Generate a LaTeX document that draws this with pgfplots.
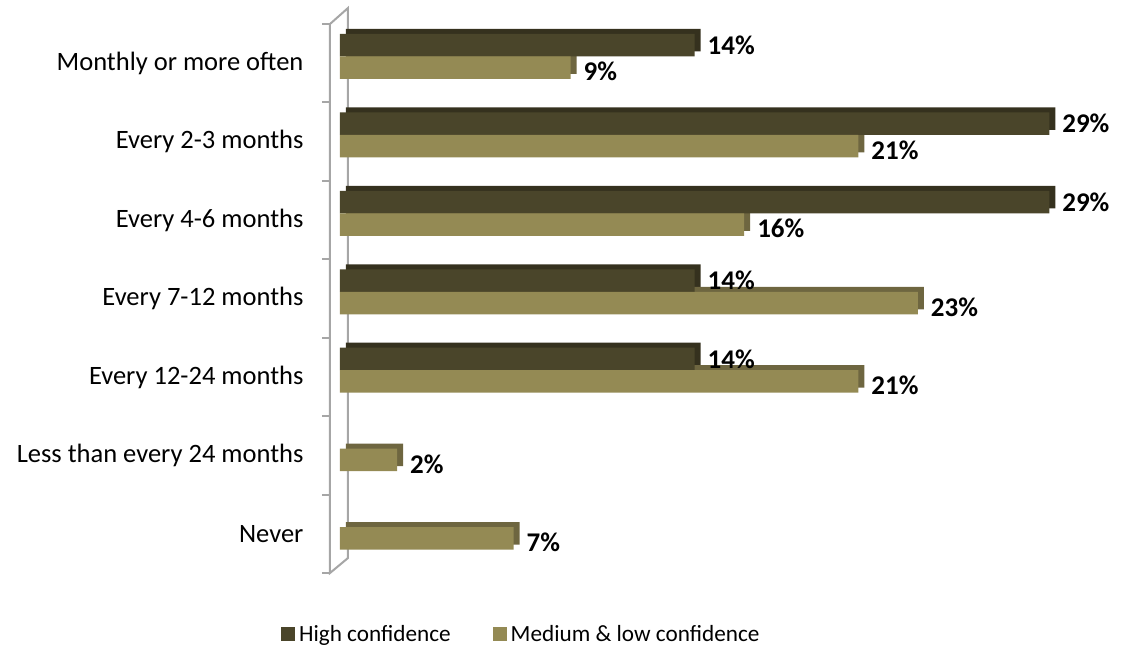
\documentclass[border=0pt]{standalone}
\usepackage{pgfplots}
\pgfplotsset{compat=1.18}
\usepackage{pgfplotstable}
\usepackage{fontspec}
\setmainfont{Carlito}

\definecolor{highc}{HTML}{4A452A}
\definecolor{highs}{HTML}{35311E}
\definecolor{medc}{HTML}{948A54}
\definecolor{meds}{HTML}{6E6640}
\definecolor{wall}{HTML}{A6A6A6}

% share of respondents, category index 0 = top row
\pgfplotstableread{
idx high
0 14.3
1 28.6
2 28.6
3 14.3
4 14.3
}\highconf
\pgfplotstableread{
idx med
0 9.3
1 20.9
2 16.3
3 23.3
4 20.9
5 2.3
6 7.0
}\medconf

\begin{document}
\begin{tikzpicture}
\useasboundingbox (-170pt,-35.5pt) rectangle (395.5pt,286.5pt);
% 3d wall behind the bars
\draw[wall, line width=1pt] (-5pt,0pt) -- (-5pt,274.5pt) -- (4pt,282.5pt) -- (4pt,7.5pt) -- cycle;
\foreach \k in {0,...,7} {
  \draw[wall, line width=1pt] (-9pt,{274.5pt-\k*39.214pt}) -- (-5pt,{274.5pt-\k*39.214pt});
}
\begin{axis}[
    scale only axis,
    width=372pt, height=274.5pt,
    xbar,
    xmin=0, xmax=30,
    ymin=-0.5, ymax=6.5,
    y dir=reverse,
    bar width=11.25pt,
    axis lines*=left,
    axis line style={draw=none},
    xtick=\empty,
    ytick={0,...,6},
    yticklabels={Monthly or more often, Every 2-3 months, Every 4-6 months,
        Every 7-12 months, Every 12-24 months, Less than every 24 months, Never},
    ytick style={draw=none},
    yticklabel style={font=\fontsize{13.25}{15}\selectfont, xshift=-10.5pt},
    clip=false,
    legend columns=2,
    legend style={at={(0.245,-0.112)}, anchor=center, draw=none,
        font=\fontsize{11.6}{14}\selectfont,
        /tikz/every even column/.append style={column sep=19pt}},
    legend image code/.code={\fill[#1] (0pt,-3.5pt) rectangle (7pt,3.5pt);},
    point meta=x,
    /pgf/number format/assume math mode=true,
]
% depth faces
\addplot[fill=highs, draw=none, bar shift=9pt, xshift=3pt, yshift=2.5pt, forget plot]
    table[x=high, y=idx] {\highconf};
\addplot[fill=meds, draw=none, bar shift=-2.25pt, xshift=3pt, yshift=2.5pt, forget plot]
    table[x=med, y=idx] {\medconf};
% front faces
\addplot[fill=highc, draw=none, bar shift=9pt,
    nodes near coords={\pgfmathprintnumber[fixed,precision=0]{\pgfplotspointmeta}\%},
    every node near coord/.append style={font=\bfseries\fontsize{13.5}{15}\selectfont, xshift=3pt}]
    table[x=high, y=idx] {\highconf};
\addlegendentry{High confidence}
\addplot[fill=medc, draw=none, bar shift=-2.25pt,
    nodes near coords={\pgfmathprintnumber[fixed,precision=0]{\pgfplotspointmeta}\%},
    every node near coord/.append style={font=\bfseries\fontsize{13.5}{15}\selectfont, xshift=3pt, yshift=-2pt}]
    table[x=med, y=idx] {\medconf};
\addlegendentry{Medium \& low confidence}
\end{axis}
\end{tikzpicture}
\end{document}
